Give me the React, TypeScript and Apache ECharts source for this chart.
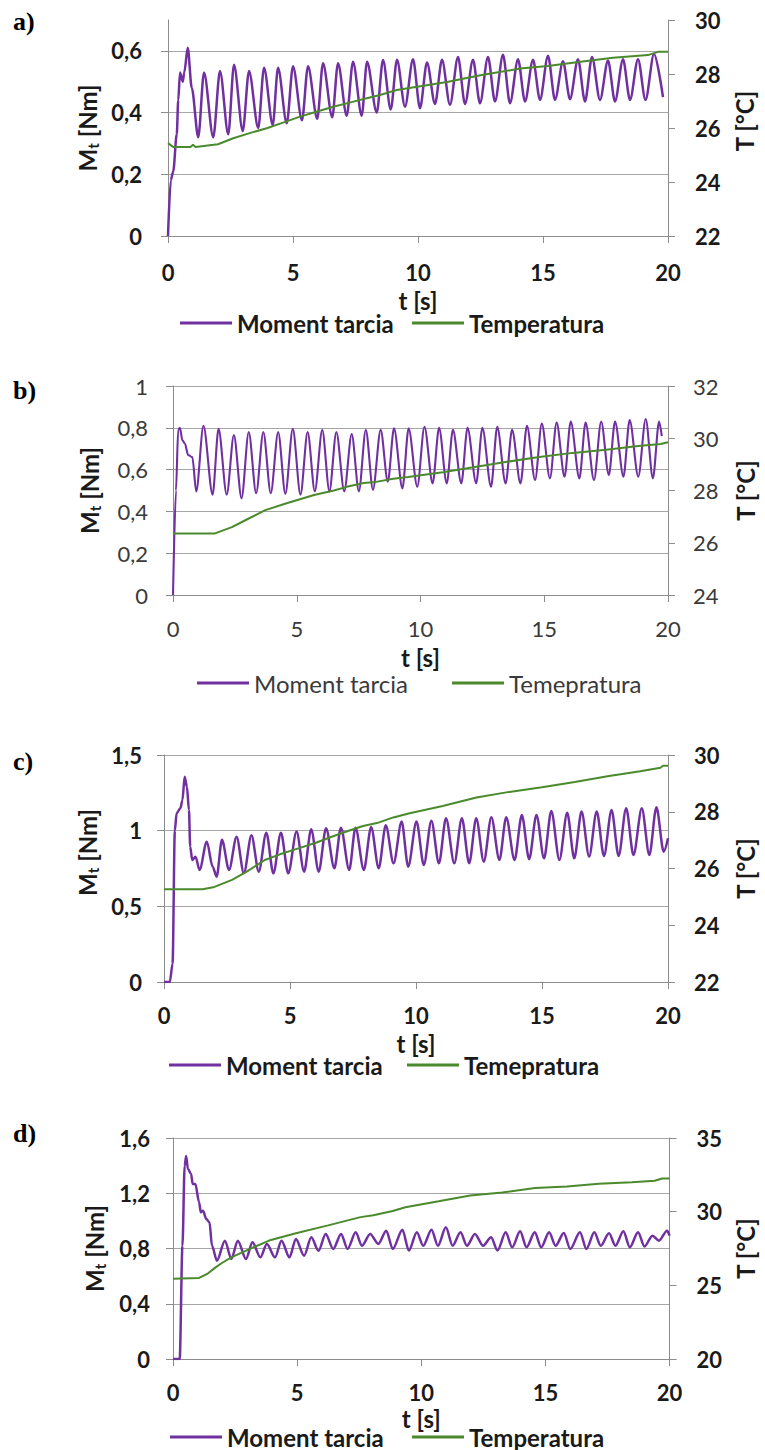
import React, { useEffect, useRef } from 'react';
import * as echarts from 'echarts';

// ---- measured series: [time s, value] ----
const torqueA = [[0,0],[0.11,0.18],[0.21,0.21],[0.35,0.33],[0.41,0.44],[0.48,0.53],[0.59,0.5],[0.65,0.53],[0.79,0.61],[0.95,0.48],[1.21,0.32],[1.44,0.53],[1.81,0.32],[2.08,0.535],[2.41,0.33],[2.64,0.555],[2.99,0.34],[3.24,0.535],[3.61,0.35],[3.84,0.545],[4.19,0.36],[4.4,0.545],[4.75,0.365],[5.0,0.55],[5.36,0.375],[5.6,0.55],[5.97,0.38],[6.2,0.56],[6.57,0.385],[6.8,0.56],[7.15,0.39],[7.4,0.565],[7.75,0.39],[7.96,0.565],[8.35,0.4],[8.6,0.57],[8.91,0.41],[9.16,0.571],[9.48,0.419],[9.8,0.573],[10.08,0.414],[10.36,0.562],[10.68,0.428],[10.96,0.571],[11.28,0.425],[11.6,0.58],[11.88,0.428],[12.2,0.571],[12.48,0.43],[12.8,0.58],[13.08,0.436],[13.4,0.587],[13.68,0.43],[14.0,0.573],[14.28,0.436],[14.6,0.571],[14.88,0.441],[15.2,0.584],[15.48,0.441],[15.8,0.566],[16.08,0.443],[16.4,0.573],[16.68,0.436],[16.96,0.58],[17.28,0.441],[17.6,0.569],[17.88,0.436],[18.2,0.573],[18.48,0.441],[18.8,0.573],[19.1,0.441],[19.44,0.59],[19.8,0.45]];
const tempA = [[0,25.44],[0.2,25.3],[0.9,25.3],[1.0,25.38],[1.1,25.3],[2.0,25.4],[2.61,25.62],[3.3,25.82],[3.95,25.99],[4.6,26.2],[5.28,26.42],[6.0,26.62],[6.61,26.79],[7.3,26.95],[7.95,27.1],[8.48,27.22],[9.15,27.41],[10.1,27.55],[11.16,27.7],[12.5,27.95],[14.08,28.2],[15.2,28.3],[16.5,28.45],[17.8,28.6],[19.2,28.7],[19.6,28.82],[20,28.82]];

const torqueB = [[0,0],[0.12,0.5],[0.21,0.79],[0.28,0.8],[0.38,0.74],[0.48,0.725],[0.61,0.67],[0.78,0.66],[0.94,0.495],[1.23,0.81],[1.6,0.48],[1.84,0.795],[2.17,0.48],[2.46,0.765],[2.77,0.463],[3.06,0.78],[3.36,0.487],[3.65,0.78],[3.95,0.487],[4.25,0.78],[4.54,0.484],[4.84,0.795],[5.15,0.48],[5.44,0.78],[5.73,0.496],[6.03,0.79],[6.32,0.496],[6.6,0.78],[6.92,0.496],[7.22,0.77],[7.51,0.496],[7.79,0.79],[8.08,0.504],[8.39,0.79],[8.68,0.542],[8.93,0.798],[9.27,0.51],[9.52,0.798],[9.87,0.518],[10.16,0.805],[10.49,0.534],[10.75,0.8],[11.06,0.534],[11.31,0.79],[11.65,0.534],[11.9,0.8],[12.25,0.534],[12.5,0.8],[12.85,0.518],[13.1,0.805],[13.44,0.534],[13.7,0.79],[14.04,0.534],[14.3,0.81],[14.63,0.55],[14.9,0.82],[15.23,0.558],[15.5,0.825],[15.82,0.566],[16.07,0.83],[16.42,0.558],[16.67,0.825],[17.01,0.55],[17.3,0.83],[17.61,0.574],[17.86,0.83],[18.2,0.566],[18.45,0.837],[18.8,0.566],[19.1,0.842],[19.39,0.558],[19.64,0.83],[19.75,0.76]];
const tempB = [[0,26.35],[1.67,26.35],[2.38,26.6],[3.0,26.9],[3.73,27.25],[4.59,27.51],[5.7,27.83],[6.5,28.0],[7.02,28.14],[7.7,28.29],[8.2,28.33],[8.9,28.45],[9.5,28.52],[10.9,28.7],[12.2,28.9],[13.5,29.1],[14.8,29.28],[16.15,29.44],[17.5,29.56],[18.8,29.7],[19.7,29.78],[20,29.85]];

const torqueC = [[0,0],[0.23,0],[0.34,0.12],[0.43,1.0],[0.5,1.115],[0.65,1.148],[0.73,1.2],[0.82,1.357],[0.91,1.29],[0.99,1.137],[1.04,0.894],[1.12,0.806],[1.25,0.828],[1.41,0.74],[1.7,0.927],[1.93,0.762],[2.09,0.696],[2.3,0.94],[2.58,0.74],[2.88,0.96],[3.17,0.718],[3.47,0.97],[3.76,0.729],[4.06,0.987],[4.34,0.718],[4.64,0.987],[4.93,0.718],[5.26,0.994],[5.56,0.729],[5.84,1.009],[6.14,0.729],[6.43,1.016],[6.76,0.751],[7.02,1.02],[7.35,0.74],[7.6,1.02],[7.93,0.74],[8.22,1.025],[8.52,0.751],[8.8,1.035],[9.11,0.784],[9.43,1.06],[9.69,0.762],[10.02,1.06],[10.31,0.773],[10.61,1.066],[10.91,0.784],[11.19,1.082],[11.52,0.784],[11.82,1.082],[12.11,0.784],[12.39,1.082],[12.69,0.795],[12.99,1.088],[13.31,0.806],[13.58,1.088],[13.91,0.806],[14.2,1.104],[14.49,0.811],[14.78,1.104],[15.08,0.817],[15.37,1.13],[15.69,0.806],[16.0,1.119],[16.28,0.817],[16.57,1.126],[16.87,0.828],[17.17,1.126],[17.46,0.833],[17.76,1.137],[18.04,0.833],[18.34,1.148],[18.63,0.839],[18.96,1.148],[19.26,0.839],[19.54,1.155],[19.83,0.861],[20,0.95]];
const tempC = [[0,25.27],[1.53,25.27],[2.0,25.35],[2.7,25.6],[3.3,25.9],[4.0,26.3],[4.6,26.5],[5.3,26.7],[6.0,26.9],[6.6,27.1],[7.3,27.32],[7.9,27.5],[8.45,27.6],[9.1,27.8],[9.75,27.95],[11.06,28.2],[12.4,28.5],[13.7,28.7],[15.0,28.86],[16.3,29.05],[17.6,29.25],[18.9,29.43],[19.7,29.55],[19.8,29.62],[20,29.62]];

const torqueD = [[0,0],[0.27,0],[0.38,0.82],[0.47,1.4],[0.53,1.47],[0.6,1.376],[0.73,1.34],[0.79,1.267],[0.9,1.267],[1.05,1.135],[1.12,1.062],[1.21,1.074],[1.34,1.014],[1.47,0.99],[1.57,0.82],[1.77,0.712],[2.09,0.857],[2.35,0.724],[2.61,0.857],[2.94,0.724],[3.2,0.845],[3.52,0.736],[3.78,0.833],[4.11,0.736],[4.37,0.857],[4.69,0.736],[4.95,0.869],[5.28,0.748],[5.57,0.881],[5.86,0.784],[6.15,0.905],[6.45,0.797],[6.77,0.905],[7.03,0.797],[7.36,0.917],[7.61,0.82],[7.94,0.905],[8.27,0.833],[8.59,0.929],[8.85,0.797],[9.24,0.936],[9.5,0.785],[9.82,0.917],[10.08,0.82],[10.41,0.936],[10.67,0.82],[10.99,0.953],[11.26,0.82],[11.58,0.917],[11.84,0.82],[12.16,0.905],[12.49,0.82],[12.81,0.881],[13.07,0.785],[13.4,0.917],[13.66,0.809],[13.98,0.924],[14.24,0.809],[14.57,0.917],[14.83,0.809],[15.15,0.917],[15.41,0.82],[15.74,0.912],[16.0,0.797],[16.39,0.917],[16.65,0.797],[16.97,0.917],[17.23,0.82],[17.56,0.91],[17.82,0.82],[18.14,0.924],[18.4,0.809],[18.73,0.917],[18.99,0.815],[19.31,0.893],[19.57,0.857],[19.9,0.929],[20,0.893]];
const tempD = [[0,25.45],[1.05,25.5],[1.4,25.8],[1.7,26.2],[2.0,26.55],[2.35,26.9],[3.1,27.48],[3.87,28.04],[4.95,28.54],[6.25,29.07],[7.55,29.63],[8.07,29.75],[8.85,30.04],[9.36,30.3],[10.7,30.7],[11.97,31.1],[13.26,31.3],[14.58,31.6],[15.87,31.7],[17.15,31.9],[18.48,32.0],[19.4,32.1],[19.7,32.25],[20,32.25]];

// ---- axis scales and names ----
const TIME_MAX = 20;
const TIME_STEP = 5;
const torqueScales = [
  { max: 0.7, interval: 0.2 },
  { max: 1, interval: 0.2 },
  { max: 1.5, interval: 0.5 },
  { max: 1.6, interval: 0.4 },
];
const tempScales = [
  { min: 22, max: 30, interval: 2 },
  { min: 24, max: 32, interval: 2 },
  { min: 22, max: 30, interval: 2 },
  { min: 20, max: 35, interval: 5 },
];
const panelLetters = ['a)', 'b)', 'c)', 'd)'];
const torqueName = 'Moment tarcia';
const tempNames = ['Temperatura', 'Temepratura', 'Temepratura', 'Temperatura'];
const torqueData = [torqueA, torqueB, torqueC, torqueD];
const tempData = [tempA, tempB, tempC, tempD];

// ---- layout of the four panels (pixels) ----
const layout = [
  { grid: { left: 168, top: 20, width: 500, height: 216 }, bold: true, hideTop: true, torqueWidth: 2.5,
    xLabelMargin: 25, yLabelMargin: 26, rLabelMargin: 27, leftGap: 66, rightGap: 64, rightShift: 14, leftShift: 0, xNameGap: 52,
    legendY: 311, legend1X: 180, legend2X: 412, letterY: 21 },
  { grid: { left: 173, top: 386, width: 504, height: 209 }, bold: false, hideTop: false, torqueWidth: 2.1,
    xLabelMargin: 22, yLabelMargin: 25, rLabelMargin: 25, leftGap: 71, rightGap: 65, rightShift: 0, leftShift: 0, xNameGap: 50,
    legendY: 671, legend1X: 197, legend2X: 452, letterY: 390 },
  { grid: { left: 164, top: 755, width: 511, height: 227 }, bold: true, hideTop: false, torqueWidth: 2.5,
    xLabelMargin: 22, yLabelMargin: 22, rLabelMargin: 26, leftGap: 59, rightGap: 65, rightShift: 0, leftShift: 32, xNameGap: 49,
    legendY: 1053, legend1X: 169, legend2X: 407, letterY: 761 },
  { grid: { left: 173, top: 1138, width: 513, height: 221 }, bold: true, hideTop: false, torqueWidth: 2.5,
    xLabelMargin: 22, yLabelMargin: 23, rLabelMargin: 27, leftGap: 66, rightGap: 56, rightShift: 0, leftShift: 0, xNameGap: 47,
    legendY: 1425, legend1X: 170, legend2X: 412, letterY: 1133 },
];

const PURPLE = '#7030A0';
const GREEN = '#4A8A2C';
const AXIS = '#8C8C8C';
const GRIDLINE = '#A6A6A6';
const FONT = 'Lato';

const decimalComma = (v: number) => String(Math.round(v * 10) / 10).replace('.', ',');

function buildOption() {
  const grid: any[] = [];
  const xAxis: any[] = [];
  const yAxis: any[] = [];
  const series: any[] = [];
  const legend: any[] = [];
  const graphic: any[] = [];

  layout.forEach((p, i) => {
    const weight = p.bold ? 'bold' : 'normal';
    const labelColor = p.bold ? '#1A1A1A' : '#3A3A3A';
    const tickLabel = { fontFamily: FONT, fontSize: 22, fontWeight: weight, color: labelColor };
    const nameStyle = { fontFamily: FONT, fontSize: 24, fontWeight: 'bold', color: '#1A1A1A' };

    grid.push({ ...p.grid, containLabel: false });

    xAxis.push({
      type: 'value', gridIndex: i, min: 0, max: TIME_MAX, interval: TIME_STEP,
      name: 't [s]', nameLocation: 'middle', nameGap: p.xNameGap, nameTextStyle: nameStyle,
      axisLine: { show: true, lineStyle: { color: AXIS, width: 1 } },
      axisTick: { show: true, length: 7, lineStyle: { color: AXIS } },
      axisLabel: { ...tickLabel, margin: p.xLabelMargin, formatter: decimalComma },
      splitLine: { show: false },
    });

    const ts = torqueScales[i];
    yAxis.push({
      type: 'value', gridIndex: i, position: 'left', min: 0, max: ts.max, interval: ts.interval,
      name: '{m|M}{s|t}{m| [Nm]}', nameLocation: 'middle', nameGap: p.leftGap,
      nameTextStyle: {
        padding: [0, 0, 0, p.leftShift],
        rich: {
          m: { ...nameStyle, lineHeight: 26 },
          s: { ...nameStyle, fontSize: 15, lineHeight: 14, verticalAlign: 'bottom' },
        },
      },
      axisLine: { show: true, lineStyle: { color: AXIS, width: 1 } },
      axisTick: { show: true, length: 7, lineStyle: { color: AXIS } },
      axisLabel: { ...tickLabel, margin: p.yLabelMargin, formatter: decimalComma, showMaxLabel: !p.hideTop },
      splitLine: { show: true, showMaxLine: !p.hideTop, lineStyle: { color: GRIDLINE, width: 1 } },
    });

    const tp = tempScales[i];
    yAxis.push({
      type: 'value', gridIndex: i, position: 'right', min: tp.min, max: tp.max, interval: tp.interval,
      name: 'T [°C]', nameLocation: 'middle', nameGap: p.rightGap,
      nameTextStyle: { ...nameStyle, padding: [0, 0, 0, p.rightShift] },
      axisLine: { show: true, lineStyle: { color: AXIS, width: 1 } },
      axisTick: { show: true, length: 7, lineStyle: { color: AXIS } },
      axisLabel: { ...tickLabel, margin: p.rLabelMargin },
      splitLine: { show: false },
    });

    series.push({
      type: 'line', name: torqueName, xAxisIndex: i, yAxisIndex: i * 2,
      data: torqueData[i], showSymbol: false, symbol: 'none', smooth: 0.3, smoothMonotone: 'x',
      lineStyle: { color: PURPLE, width: p.torqueWidth }, itemStyle: { color: PURPLE }, z: 3,
    });
    series.push({
      type: 'line', name: tempNames[i], xAxisIndex: i, yAxisIndex: i * 2 + 1,
      data: tempData[i], showSymbol: false, symbol: 'none',
      lineStyle: { color: GREEN, width: 2 }, itemStyle: { color: GREEN }, z: 4,
    });

    const legendText = { fontFamily: FONT, fontSize: 24, fontWeight: weight, color: labelColor };
    legend.push({
      left: p.legend1X, top: p.legendY, padding: 0, data: [torqueName], icon: 'rect',
      itemWidth: 52, itemHeight: 3, textStyle: legendText, selectedMode: false,
    });
    legend.push({
      left: p.legend2X, top: p.legendY, padding: 0, data: [tempNames[i]], icon: 'rect',
      itemWidth: 52, itemHeight: 3, textStyle: legendText, selectedMode: false,
    });

    graphic.push({
      type: 'text', x: 13, y: p.letterY,
      style: { text: panelLetters[i], font: 'bold 26px "Liberation Serif"', fill: '#000', verticalAlign: 'middle' },
    });
  });

  return {
    animation: false,
    backgroundColor: '#FFFFFF',
    textStyle: { fontFamily: FONT },
    grid, xAxis, yAxis, series, legend, graphic,
  };
}

export default function App() {
  const ref = useRef<HTMLDivElement>(null);
  useEffect(() => {
    if (!ref.current) return;
    const chart = echarts.init(ref.current, undefined, { renderer: 'svg' });
    chart.setOption(buildOption());
    return () => chart.dispose();
  }, []);
  return <div ref={ref} style={{ position: 'absolute', left: 0, top: 0, width: 765, height: 1450, background: '#fff' }} />;
}
